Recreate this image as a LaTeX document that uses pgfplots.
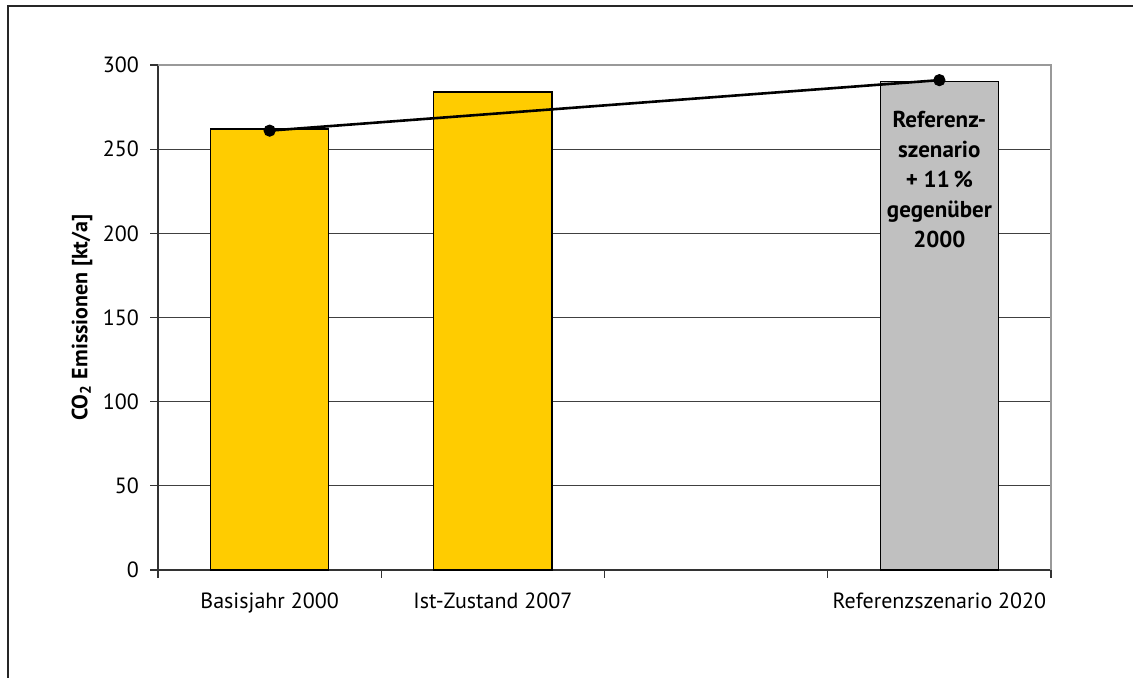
\documentclass[border=0pt]{standalone}
\usepackage{fontspec}
\setmainfont{PT Sans}
\usepackage{pgfplots}
\pgfplotsset{compat=1.18}
\definecolor{baryellow}{HTML}{FFCC00}
\definecolor{bargray}{HTML}{C0C0C0}
\begin{document}
\begin{tikzpicture}
\useasboundingbox (0,0) rectangle (566.5pt,339pt);
\draw[line width=0.9pt, black!85] (4pt,0pt) -- (4pt,336pt) -- (566.5pt,336pt);
\begin{axis}[
  at={(79pt,54pt)}, anchor=south west,
  scale only axis, width=446.5pt, height=252.5pt,
  xmin=-0.5, xmax=3.5, ymin=0, ymax=300,
  ytick={0,50,...,300},
  xtick={0,1,3},
  xticklabels={Basisjahr 2000, Ist-Zustand 2007, Referenzszenario 2020},
  minor xtick={-0.5,0.5,1.5,2.5,3.5},
  major x tick style={draw=none},
  tick align=outside,
  major tick length=4pt, minor tick length=4pt,
  tick style={black!80, line width=0.6pt},
  axis x line*=bottom, axis y line*=left,
  axis line style={-, black!80, line width=0.7pt},
  ymajorgrids, grid style={black!75, line width=0.5pt},
  /pgf/number format/assume math mode=true,
  tick label style={font=\fontsize{11}{13}\selectfont},
  xticklabel style={yshift=-4pt},
  yticklabel style={xshift=-2pt},
  ylabel={\textbf{CO\textsubscript{2} Emissionen [kt/a]}},
  ylabel style={at={(axis description cs:-0.085,0.5)}, anchor=center, font=\fontsize{11}{13}\selectfont},
  clip=false,
]
\addplot[ybar, bar width=0.53, fill=baryellow, draw=black, line width=0.6pt] coordinates {(0,262) (1,284)};
\addplot[ybar, bar width=0.53, fill=bargray, draw=black, line width=0.6pt] coordinates {(3,290)};
\addplot[black, line width=1.3pt, mark=*, mark size=2.8pt, mark options={fill=black, line width=0.5pt}] coordinates {(0,261) (3,291)};
\draw[black!40, line width=0.8pt] (rel axis cs:0,1) -- (rel axis cs:1,1) -- (rel axis cs:1,0);
\node[font=\fontsize{11.5}{15}\selectfont\bfseries, align=center] at (axis cs:3,232) {Referenz-\\szenario\\+ 11\,\%\\gegenüber\\2000};
\end{axis}
\end{tikzpicture}
\end{document}
